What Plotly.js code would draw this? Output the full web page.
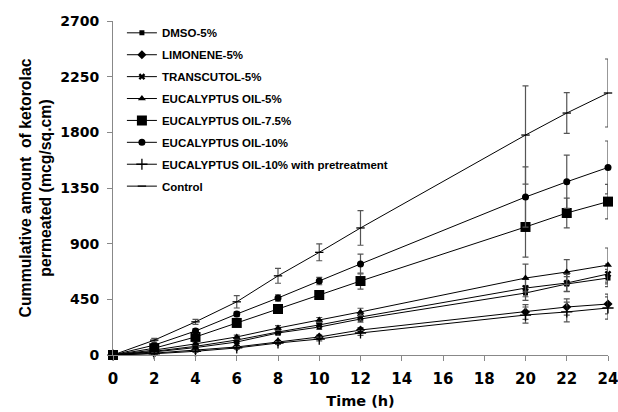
<!DOCTYPE html>
<html>
<head>
<meta charset="utf-8">
<script src="https://cdn.plot.ly/plotly-3.0.1.min.js"></script>
<style>html,body{margin:0;padding:0;background:#fff;}#chart{width:618px;height:412px;}</style>
</head>
<body>
<div id="chart"></div>
<script>
const timeH = [0, 2, 4, 6, 8, 10, 12, 20, 22, 24];

const seriesNames = [
  "DMSO-5%",
  "LIMONENE-5%",
  "TRANSCUTOL-5%",
  "EUCALYPTUS OIL-5%",
  "EUCALYPTUS OIL-7.5%",
  "EUCALYPTUS OIL-10%",
  "EUCALYPTUS OIL-10% with pretreatment",
  "Control"
];

const dmso5 = [0, 25, 60, 105, 178, 226, 291, 501, 574, 622];
const dmso5Sd = [0, 6, 10, 12, 15, 18, 25, 60, 60, 70];

const limonene5 = [0, 15, 40, 65, 105, 146, 202, 348, 388, 412];
const limonene5Sd = [0, 5, 8, 10, 12, 15, 20, 60, 65, 80];

const transcutol5 = [0, 30, 70, 121, 186, 243, 307, 541, 582, 655];
const transcutol5Sd = [0, 6, 10, 12, 15, 20, 25, 70, 70, 80];

const eo5 = [0, 40, 90, 146, 218, 283, 348, 622, 671, 727];
const eo5Sd = [0, 8, 10, 15, 20, 20, 30, 112, 100, 138];

const eo75 = [0, 55, 146, 259, 372, 485, 598, 1035, 1148, 1240];
const eo75Sd = [0, 10, 15, 20, 20, 20, 65, 243, 120, 140];

const eo10 = [0, 80, 194, 331, 461, 598, 736, 1277, 1400, 1516];
const eo10Sd = [0, 10, 20, 20, 25, 30, 80, 243, 215, 214];

const eo10Pre = [0, 10, 30, 57, 97, 129, 178, 323, 348, 380];
const eo10PreSd = [0, 5, 8, 10, 12, 15, 20, 65, 80, 90];

const control = [0, 120, 268, 430, 640, 830, 1027, 1778, 1956, 2118];
const controlSd = [0, 15, 20, 50, 60, 68, 140, 397, 165, 275];

const yTicks = [0, 450, 900, 1350, 1800, 2250, 2700];
const xTicks = [0, 2, 4, 6, 8, 10, 12, 14, 16, 18, 20, 22, 24];

const values = [dmso5, limonene5, transcutol5, eo5, eo75, eo10, eo10Pre, control];
const sds = [dmso5Sd, limonene5Sd, transcutol5Sd, eo5Sd, eo75Sd, eo10Sd, eo10PreSd, controlSd];
const symbols = ["square", "diamond", "x", "triangle-up", "square", "circle", "cross-thin-open", "line-ew-open"];
const sizes = [5, 7, 6, 7, 10, 7, 8, 6];

const traces = values.map((v, i) => ({
  x: timeH,
  y: v,
  name: seriesNames[i],
  legendgroup: "g" + i,
  type: "scatter",
  mode: "lines+markers",
  cliponaxis: false,
  line: {color: "#000", width: 1},
  marker: {symbol: symbols[i], size: sizes[i], color: "#000",
           line: {color: "#000", width: (symbols[i].indexOf("open") >= 0) ? 1.3 : 0}},
  error_y: {type: "data", array: sds[i], visible: true, color: "#555", thickness: 1.2, width: 3}
}));

const tickFont = "DejaVu Sans, sans-serif";
const textFont = "Liberation Sans, Arial, sans-serif";

const layout = {
  width: 618,
  height: 412,
  margin: {l: 113, r: 10, t: 21, b: 57},
  paper_bgcolor: "#fff",
  plot_bgcolor: "#fff",
  font: {family: textFont, color: "#000"},
  showlegend: true,
  legend: {
    x: 0.018, y: 1.008, xanchor: "left", yanchor: "top",
    bgcolor: "rgba(0,0,0,0)",
    itemwidth: 30,
    font: {size: 11.5, family: textFont, color: "#000", weight: "bold"},
    tracegroupgap: 2.9
  },
  xaxis: {
    range: [0, 24],
    tickvals: xTicks,
    ticktext: xTicks.map(String),
    showgrid: false, zeroline: false,
    showline: true, linecolor: "#888", linewidth: 1,
    ticks: "outside", ticklen: 5, tickcolor: "#888",
    ticklabelstandoff: 5,
    ticklabeloverflow: "allow",
    tickfont: {size: 15, family: tickFont, weight: "bold"},
    title: {text: "Time (h)", font: {size: 14.5, family: tickFont, weight: "bold"}, standoff: 8}
  },
  yaxis: {
    range: [0, 2700],
    tickvals: yTicks,
    ticktext: yTicks.map(String),
    showgrid: false, zeroline: false,
    showline: true, linecolor: "#888", linewidth: 1,
    ticks: "outside", ticklen: 5, tickcolor: "#888",
    ticklabelstandoff: 5,
    tickfont: {size: 14, family: tickFont, weight: "bold"},
    title: {text: "Cummulative amount  of ketorolac<br>permeated (mcg/sq.cm)", font: {size: 15.8, family: textFont, weight: "bold"}, standoff: 4}
  }
};

Plotly.newPlot("chart", traces, layout, {staticPlot: true, displayModeBar: false});
</script>
</body>
</html>
